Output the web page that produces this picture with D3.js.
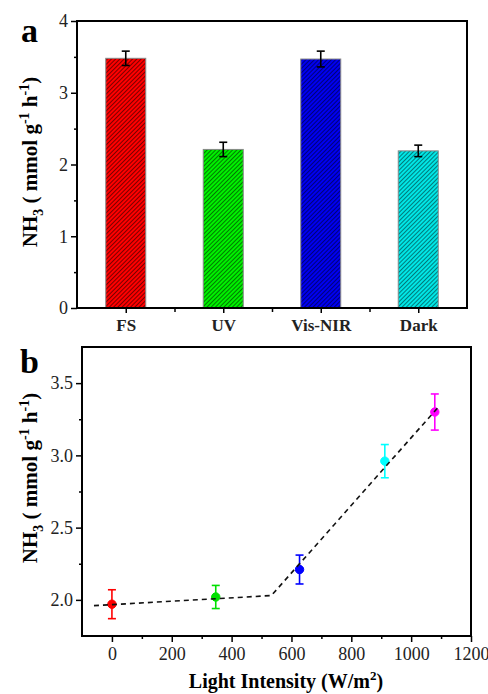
<!DOCTYPE html>
<html>
<head>
<meta charset="utf-8">
<script src="https://cdn.jsdelivr.net/npm/d3@7"></script>
<style>
  body { margin: 0; background: #fff; }
  svg text, svg tspan { font-family: "Liberation Serif", "Times New Roman", serif !important; }
</style>
</head>
<body>
<svg id="chart"></svg>
<script>
// panel a: bars
const barCats = ["FS", "UV", "Vis-NIR", "Dark"];
const barVals = [3.48, 2.21, 3.47, 2.19];
const barErr = [0.10, 0.10, 0.11, 0.08];
const barFill = ["#ff0000", "#00f000", "#0000f0", "#00e6e6"];
const barHatch = ["#7a0000", "#007a00", "#00007a", "#007a7a"];
const aTicksY = [0, 1, 2, 3, 4];

// panel b: points vs light intensity
const intensity = [0, 347, 627, 912, 1079];
const rate = [1.97, 2.02, 2.21, 2.96, 3.30];
const rateErr = [0.10, 0.08, 0.10, 0.115, 0.125];
const ptColor = ["#ff0000", "#00e000", "#0000ff", "#00ffff", "#ff00ff"];
const fitX = [-60, 533, 1089];
const fitY = [1.96, 2.03, 3.33];
const bTicksX = [0, 200, 400, 600, 800, 1000, 1200];
const bTicksY = [2.0, 2.5, 3.0, 3.5];

const W = 488, H = 694;
const svg = d3.select("#chart").attr("width", W).attr("height", H);
const defs = svg.append("defs");

barFill.forEach((c, i) => {
    const p = defs.append("pattern")
        .attr("id", "hatch" + i)
        .attr("patternUnits", "userSpaceOnUse")
        .attr("width", 3).attr("height", 3)
        .attr("patternTransform", "rotate(-45)");
    p.append("rect").attr("width", 3).attr("height", 3).attr("fill", c);
    p.append("rect").attr("width", 3).attr("height", 1).attr("fill", barHatch[i]);
});

function yTitle(g, cx, cy) {
    const t = g.append("text")
        .attr("transform", `translate(${cx},${cy}) rotate(-90)`)
        .attr("text-anchor", "middle")
        .attr("font-weight", "bold")
        .attr("font-size", 21);
    t.append("tspan").text("NH");
    t.append("tspan").attr("font-size", 14).attr("dy", 6).text("3");
    t.append("tspan").attr("dy", -6).text(" ( mmol g");
    t.append("tspan").attr("font-size", 14).attr("dy", -8).text("-1");
    t.append("tspan").attr("dy", 8).text(" h");
    t.append("tspan").attr("font-size", 14).attr("dy", -8).text("-1");
    t.append("tspan").attr("dy", 8).text(")");
}

function styleTicks(g, size, bold) {
    g.selectAll("text").attr("font-size", size)
        .attr("font-weight", bold ? "bold" : "normal").attr("fill", "#222");
}

// ---------- panel a ----------
const a = { l: 77, r: 467, t: 21, b: 308 };
const xa = d3.scaleLinear().domain([0.5, 4.5]).range([a.l, a.r]);
const ya = d3.scaleLinear().domain([0, 4]).range([a.b, a.t]);
const ga = svg.append("g");

ga.selectAll(".bar").data(barVals).enter().append("rect")
    .attr("x", (d, i) => xa(i + 1) - 20)
    .attr("width", 40)
    .attr("y", d => ya(d))
    .attr("height", d => ya(0) - ya(d))
    .attr("fill", (d, i) => `url(#hatch${i})`)
    .attr("stroke", "#888").attr("stroke-width", 1);

barVals.forEach((v, i) => {
    const cx = xa(i + 1);
    ga.append("line").attr("x1", cx).attr("x2", cx)
        .attr("y1", ya(v + barErr[i])).attr("y2", ya(v - barErr[i]))
        .attr("stroke", "#000").attr("stroke-width", 1.6);
    [v + barErr[i], v - barErr[i]].forEach(e => ga.append("line")
        .attr("x1", cx - 4).attr("x2", cx + 4).attr("y1", ya(e)).attr("y2", ya(e))
        .attr("stroke", "#000").attr("stroke-width", 1.6));
});

ga.append("rect").attr("x", a.l).attr("y", a.t)
    .attr("width", a.r - a.l).attr("height", a.b - a.t)
    .attr("fill", "none").attr("stroke", "#000").attr("stroke-width", 2);

ga.append("g").attr("transform", `translate(${a.l},0)`)
    .call(d3.axisLeft(ya).tickValues(d3.range(0.5, 4, 1)).tickSize(3).tickFormat(""))
    .call(g => g.select(".domain").remove());
ga.append("g").attr("transform", `translate(${a.l},0)`)
    .call(d3.axisLeft(ya).tickValues(aTicksY).tickSize(6).tickPadding(3).tickFormat(d3.format("d")))
    .call(g => g.select(".domain").remove())
    .call(g => styleTicks(g, 18, false));
ga.append("g").attr("transform", `translate(0,${a.b})`)
    .call(d3.axisBottom(xa).tickValues([1.5, 2.5, 3.5]).tickSize(4).tickFormat(""))
    .call(g => g.select(".domain").remove());
ga.append("g").attr("transform", `translate(0,${a.b})`)
    .call(d3.axisBottom(xa).tickValues([1, 2, 3, 4]).tickSize(5).tickPadding(6).tickFormat((d, i) => barCats[i]))
    .call(g => g.select(".domain").remove())
    .call(g => styleTicks(g, 17, true));
ga.selectAll(".tick line").attr("stroke-width", 1.5);

ga.append("text").attr("x", 21).attr("y", 42)
    .attr("font-size", 34).attr("font-weight", "bold").text("a");
yTitle(ga, 37, 162);

// ---------- panel b ----------
const b = { l: 82, r: 471, t: 347, b: 636 };
const xb = d3.scaleLinear().domain([-100, 1200]).range([b.l, b.r]);
const yb = d3.scaleLinear().domain([1.75, 3.75]).range([b.b, b.t]);
const gb = svg.append("g");

gb.append("rect").attr("x", b.l).attr("y", b.t)
    .attr("width", b.r - b.l).attr("height", b.b - b.t)
    .attr("fill", "none").attr("stroke", "#000").attr("stroke-width", 2);

gb.append("g").attr("transform", `translate(${b.l},0)`)
    .call(d3.axisLeft(yb).tickValues([2.25, 2.75, 3.25]).tickSize(3).tickFormat(""))
    .call(g => g.select(".domain").remove());
gb.append("g").attr("transform", `translate(${b.l},0)`)
    .call(d3.axisLeft(yb).tickValues(bTicksY).tickSize(6).tickPadding(3).tickFormat(d3.format(".1f")))
    .call(g => g.select(".domain").remove())
    .call(g => styleTicks(g, 18, false));
gb.append("g").attr("transform", `translate(0,${b.b})`)
    .call(d3.axisBottom(xb).tickValues(d3.range(100, 1200, 200)).tickSize(3).tickFormat(""))
    .call(g => g.select(".domain").remove());
gb.append("g").attr("transform", `translate(0,${b.b})`)
    .call(d3.axisBottom(xb).tickValues(bTicksX).tickSize(6).tickPadding(5).tickFormat(d3.format("d")))
    .call(g => g.select(".domain").remove())
    .call(g => styleTicks(g, 18, false));
gb.selectAll(".tick line").attr("stroke-width", 1.5);

intensity.forEach((x, i) => {
    const cx = xb(x), y = rate[i], e = rateErr[i], c = ptColor[i];
    gb.append("line").attr("x1", cx).attr("x2", cx)
        .attr("y1", yb(y + e)).attr("y2", yb(y - e))
        .attr("stroke", c).attr("stroke-width", 1.6);
    [y + e, y - e].forEach(v => gb.append("line")
        .attr("x1", cx - 4).attr("x2", cx + 4).attr("y1", yb(v)).attr("y2", yb(v))
        .attr("stroke", c).attr("stroke-width", 1.6));
    gb.append("circle").attr("cx", cx).attr("cy", yb(y)).attr("r", 4.2)
        .attr("fill", c).attr("stroke", c).attr("stroke-width", 1);
});

const line = d3.line().x(d => xb(d[0])).y(d => yb(d[1]));
gb.append("path").datum(fitX.map((x, i) => [x, fitY[i]]))
    .attr("d", line).attr("fill", "none")
    .attr("stroke", "#111").attr("stroke-width", 1.6)
    .attr("stroke-dasharray", "5,4");

gb.append("text").attr("x", 20).attr("y", 373)
    .attr("font-size", 34).attr("font-weight", "bold").text("b");
yTitle(gb, 37, 478);

const xt = gb.append("text").attr("x", 286).attr("y", 688)
    .attr("text-anchor", "middle").attr("font-size", 20).attr("font-weight", "bold");
xt.append("tspan").text("Light Intensity (W/m");
xt.append("tspan").attr("font-size", 13).attr("dy", -8).text("2");
xt.append("tspan").attr("dy", 8).text(")");

// serif everywhere (axis groups default to sans-serif)
svg.selectAll("g").attr("font-family", null);
svg.selectAll("text, tspan").attr("font-family", "Liberation Serif")
    .style("font-family", '"Liberation Serif"');
</script>
</body>
</html>
